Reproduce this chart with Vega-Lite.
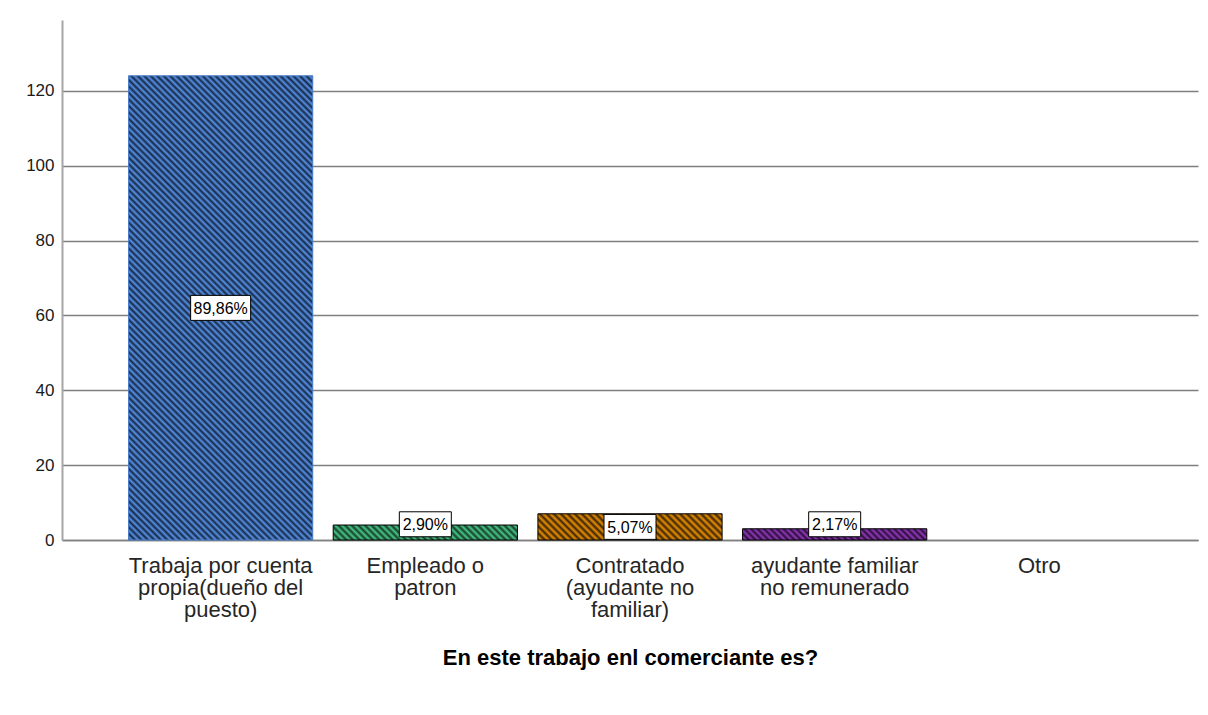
{
  "$schema": "https://vega.github.io/schema/vega-lite/v6.json",
  "width": 1136,
  "height": 520,
  "autosize": {"type": "none"},
  "padding": {"left": 62, "top": 20, "right": 10, "bottom": 175},
  "background": "white",
  "config": {
    "view": {"stroke": null},
    "font": "Liberation Sans",
    "axis": {"labelFont": "Liberation Sans", "titleFont": "Liberation Sans"},
    "axisY": {
      "grid": true,
      "gridColor": "#7f7f7f",
      "gridWidth": 1.5,
      "domainColor": "#a6a6a6",
      "domainWidth": 2,
      "tickSize": 0,
      "labelPadding": 8,
      "labelFontSize": 17,
      "labelColor": "#1a1a1a"
    },
    "text": {"font": "Liberation Sans"}
  },
  "data": {
    "values": [
      {"cat": "Trabaja por cuenta propia(dueño del puesto)", "count": 124, "pct": 89.86},
      {"cat": "Empleado o patron", "count": 4, "pct": 2.90},
      {"cat": "Contratado (ayudante no familiar)", "count": 7, "pct": 5.07},
      {"cat": "ayudante familiar no remunerado", "count": 3, "pct": 2.17},
      {"cat": "Otro", "count": 0, "pct": 0}
    ]
  },
  "encoding": {
    "x": {
      "field": "cat",
      "type": "nominal",
      "sort": null,
      "scale": {
        "domain": ["Trabaja por cuenta propia(dueño del puesto)", "Empleado o patron", "Contratado (ayudante no familiar)", "ayudante familiar no remunerado", "Otro"],
        "paddingInner": 0.1,
        "paddingOuter": 0.325
      },
      "axis": {
        "title": "En este trabajo enl comerciante es?",
        "titleFontSize": 22,
        "titleFontWeight": "bold",
        "titleColor": "#000000",
        "titlePadding": 27,
        "labelAngle": 0,
        "labelFontSize": 22,
        "labelLineHeight": 22,
        "labelColor": "#262626",
        "labelPadding": 15,
        "labelLimit": 0,
        "labelOverlap": false,
        "labelBound": false,
        "ticks": false,
        "tickSize": 0,
        "domainColor": "#7f7f7f",
        "domainWidth": 1.5,
        "labelExpr": "datum.value == 'Trabaja por cuenta propia(dueño del puesto)' ? ['Trabaja por cuenta', 'propia(dueño del', 'puesto)'] : datum.value == 'Empleado o patron' ? ['Empleado o', 'patron'] : datum.value == 'Contratado (ayudante no familiar)' ? ['Contratado', '(ayudante no', 'familiar)'] : datum.value == 'ayudante familiar no remunerado' ? ['ayudante familiar', 'no remunerado'] : datum.label"
      }
    },
    "y": {
      "field": "count",
      "type": "quantitative",
      "stack": null,
      "scale": {"domain": [0, 138.9], "nice": false, "zero": true},
      "axis": {"title": null, "values": [0, 20, 40, 60, 80, 100, 120]}
    }
  },
  "layer": [
    {
      "transform": [{"filter": "datum.cat == 'Trabaja por cuenta propia(dueño del puesto)'"}],
      "mark": {
        "type": "bar",
        "stroke": "#4a7cc8",
        "strokeWidth": 1,
        "fill": {
          "gradient": "linear",
          "x1": 1, "y1": 0, "x2": 0.5212, "y2": 1.2068,
          "stops": [
            {"offset":0,"color":"#172845"},{"offset":0.005,"color":"#5591e6"},
            {"offset":0.01,"color":"#172845"},{"offset":0.015,"color":"#5591e6"},
            {"offset":0.02,"color":"#172845"},{"offset":0.025,"color":"#5591e6"},
            {"offset":0.03,"color":"#172845"},{"offset":0.035,"color":"#5591e6"},
            {"offset":0.04,"color":"#172845"},{"offset":0.045,"color":"#5591e6"},
            {"offset":0.05,"color":"#172845"},{"offset":0.055,"color":"#5591e6"},
            {"offset":0.06,"color":"#172845"},{"offset":0.065,"color":"#5591e6"},
            {"offset":0.07,"color":"#172845"},{"offset":0.075,"color":"#5591e6"},
            {"offset":0.08,"color":"#172845"},{"offset":0.085,"color":"#5591e6"},
            {"offset":0.09,"color":"#172845"},{"offset":0.095,"color":"#5591e6"},
            {"offset":0.1,"color":"#172845"},{"offset":0.105,"color":"#5591e6"},
            {"offset":0.11,"color":"#172845"},{"offset":0.115,"color":"#5591e6"},
            {"offset":0.12,"color":"#172845"},{"offset":0.125,"color":"#5591e6"},
            {"offset":0.13,"color":"#172845"},{"offset":0.135,"color":"#5591e6"},
            {"offset":0.14,"color":"#172845"},{"offset":0.145,"color":"#5591e6"},
            {"offset":0.15,"color":"#172845"},{"offset":0.155,"color":"#5591e6"},
            {"offset":0.16,"color":"#172845"},{"offset":0.165,"color":"#5591e6"},
            {"offset":0.17,"color":"#172845"},{"offset":0.175,"color":"#5591e6"},
            {"offset":0.18,"color":"#172845"},{"offset":0.185,"color":"#5591e6"},
            {"offset":0.19,"color":"#172845"},{"offset":0.195,"color":"#5591e6"},
            {"offset":0.2,"color":"#172845"},{"offset":0.205,"color":"#5591e6"},
            {"offset":0.21,"color":"#172845"},{"offset":0.215,"color":"#5591e6"},
            {"offset":0.22,"color":"#172845"},{"offset":0.225,"color":"#5591e6"},
            {"offset":0.23,"color":"#172845"},{"offset":0.235,"color":"#5591e6"},
            {"offset":0.24,"color":"#172845"},{"offset":0.245,"color":"#5591e6"},
            {"offset":0.25,"color":"#172845"},{"offset":0.255,"color":"#5591e6"},
            {"offset":0.26,"color":"#172845"},{"offset":0.265,"color":"#5591e6"},
            {"offset":0.27,"color":"#172845"},{"offset":0.275,"color":"#5591e6"},
            {"offset":0.28,"color":"#172845"},{"offset":0.285,"color":"#5591e6"},
            {"offset":0.29,"color":"#172845"},{"offset":0.295,"color":"#5591e6"},
            {"offset":0.3,"color":"#172845"},{"offset":0.305,"color":"#5591e6"},
            {"offset":0.31,"color":"#172845"},{"offset":0.315,"color":"#5591e6"},
            {"offset":0.32,"color":"#172845"},{"offset":0.325,"color":"#5591e6"},
            {"offset":0.33,"color":"#172845"},{"offset":0.335,"color":"#5591e6"},
            {"offset":0.34,"color":"#172845"},{"offset":0.345,"color":"#5591e6"},
            {"offset":0.35,"color":"#172845"},{"offset":0.355,"color":"#5591e6"},
            {"offset":0.36,"color":"#172845"},{"offset":0.365,"color":"#5591e6"},
            {"offset":0.37,"color":"#172845"},{"offset":0.375,"color":"#5591e6"},
            {"offset":0.38,"color":"#172845"},{"offset":0.385,"color":"#5591e6"},
            {"offset":0.39,"color":"#172845"},{"offset":0.395,"color":"#5591e6"},
            {"offset":0.4,"color":"#172845"},{"offset":0.405,"color":"#5591e6"},
            {"offset":0.41,"color":"#172845"},{"offset":0.415,"color":"#5591e6"},
            {"offset":0.42,"color":"#172845"},{"offset":0.425,"color":"#5591e6"},
            {"offset":0.43,"color":"#172845"},{"offset":0.435,"color":"#5591e6"},
            {"offset":0.44,"color":"#172845"},{"offset":0.445,"color":"#5591e6"},
            {"offset":0.45,"color":"#172845"},{"offset":0.455,"color":"#5591e6"},
            {"offset":0.46,"color":"#172845"},{"offset":0.465,"color":"#5591e6"},
            {"offset":0.47,"color":"#172845"},{"offset":0.475,"color":"#5591e6"},
            {"offset":0.48,"color":"#172845"},{"offset":0.485,"color":"#5591e6"},
            {"offset":0.49,"color":"#172845"},{"offset":0.495,"color":"#5591e6"},
            {"offset":0.5,"color":"#172845"},{"offset":0.505,"color":"#5591e6"},
            {"offset":0.51,"color":"#172845"},{"offset":0.515,"color":"#5591e6"},
            {"offset":0.52,"color":"#172845"},{"offset":0.525,"color":"#5591e6"},
            {"offset":0.53,"color":"#172845"},{"offset":0.535,"color":"#5591e6"},
            {"offset":0.54,"color":"#172845"},{"offset":0.545,"color":"#5591e6"},
            {"offset":0.55,"color":"#172845"},{"offset":0.555,"color":"#5591e6"},
            {"offset":0.56,"color":"#172845"},{"offset":0.565,"color":"#5591e6"},
            {"offset":0.57,"color":"#172845"},{"offset":0.575,"color":"#5591e6"},
            {"offset":0.58,"color":"#172845"},{"offset":0.585,"color":"#5591e6"},
            {"offset":0.59,"color":"#172845"},{"offset":0.595,"color":"#5591e6"},
            {"offset":0.6,"color":"#172845"},{"offset":0.605,"color":"#5591e6"},
            {"offset":0.61,"color":"#172845"},{"offset":0.615,"color":"#5591e6"},
            {"offset":0.62,"color":"#172845"},{"offset":0.625,"color":"#5591e6"},
            {"offset":0.63,"color":"#172845"},{"offset":0.635,"color":"#5591e6"},
            {"offset":0.64,"color":"#172845"},{"offset":0.645,"color":"#5591e6"},
            {"offset":0.65,"color":"#172845"},{"offset":0.655,"color":"#5591e6"},
            {"offset":0.66,"color":"#172845"},{"offset":0.665,"color":"#5591e6"},
            {"offset":0.67,"color":"#172845"},{"offset":0.675,"color":"#5591e6"},
            {"offset":0.68,"color":"#172845"},{"offset":0.685,"color":"#5591e6"},
            {"offset":0.69,"color":"#172845"},{"offset":0.695,"color":"#5591e6"},
            {"offset":0.7,"color":"#172845"},{"offset":0.705,"color":"#5591e6"},
            {"offset":0.71,"color":"#172845"},{"offset":0.715,"color":"#5591e6"},
            {"offset":0.72,"color":"#172845"},{"offset":0.725,"color":"#5591e6"},
            {"offset":0.73,"color":"#172845"},{"offset":0.735,"color":"#5591e6"},
            {"offset":0.74,"color":"#172845"},{"offset":0.745,"color":"#5591e6"},
            {"offset":0.75,"color":"#172845"},{"offset":0.755,"color":"#5591e6"},
            {"offset":0.76,"color":"#172845"},{"offset":0.765,"color":"#5591e6"},
            {"offset":0.77,"color":"#172845"},{"offset":0.775,"color":"#5591e6"},
            {"offset":0.78,"color":"#172845"},{"offset":0.785,"color":"#5591e6"},
            {"offset":0.79,"color":"#172845"},{"offset":0.795,"color":"#5591e6"},
            {"offset":0.8,"color":"#172845"},{"offset":0.805,"color":"#5591e6"},
            {"offset":0.81,"color":"#172845"},{"offset":0.815,"color":"#5591e6"},
            {"offset":0.82,"color":"#172845"},{"offset":0.825,"color":"#5591e6"},
            {"offset":0.83,"color":"#172845"},{"offset":0.835,"color":"#5591e6"},
            {"offset":0.84,"color":"#172845"},{"offset":0.845,"color":"#5591e6"},
            {"offset":0.85,"color":"#172845"},{"offset":0.855,"color":"#5591e6"},
            {"offset":0.86,"color":"#172845"},{"offset":0.865,"color":"#5591e6"},
            {"offset":0.87,"color":"#172845"},{"offset":0.875,"color":"#5591e6"},
            {"offset":0.88,"color":"#172845"},{"offset":0.885,"color":"#5591e6"},
            {"offset":0.89,"color":"#172845"},{"offset":0.895,"color":"#5591e6"},
            {"offset":0.9,"color":"#172845"},{"offset":0.905,"color":"#5591e6"},
            {"offset":0.91,"color":"#172845"},{"offset":0.915,"color":"#5591e6"},
            {"offset":0.92,"color":"#172845"},{"offset":0.925,"color":"#5591e6"},
            {"offset":0.93,"color":"#172845"},{"offset":0.935,"color":"#5591e6"},
            {"offset":0.94,"color":"#172845"},{"offset":0.945,"color":"#5591e6"},
            {"offset":0.95,"color":"#172845"},{"offset":0.955,"color":"#5591e6"},
            {"offset":0.96,"color":"#172845"},{"offset":0.965,"color":"#5591e6"},
            {"offset":0.97,"color":"#172845"},{"offset":0.975,"color":"#5591e6"},
            {"offset":0.98,"color":"#172845"},{"offset":0.985,"color":"#5591e6"},
            {"offset":0.99,"color":"#172845"},{"offset":0.995,"color":"#5591e6"},
            {"offset":1,"color":"#172845"}
          ]
        }
      }
    },
    {
      "transform": [{"filter": "datum.cat == 'Empleado o patron'"}],
      "mark": {
        "type": "bar",
        "stroke": "#000000",
        "strokeWidth": 1,
        "fill": {
          "gradient": "linear",
          "x1": 1, "y1": 0, "x2": -0.0743, "y2": 0.0874,
          "stops": [
            {"offset":0,"color":"#163e28"},{"offset":0.0167,"color":"#47c688"},{"offset":0.0333,"color":"#163e28"},{"offset":0.05,"color":"#47c688"},
            {"offset":0.0667,"color":"#163e28"},{"offset":0.0833,"color":"#47c688"},{"offset":0.1,"color":"#163e28"},{"offset":0.1167,"color":"#47c688"},
            {"offset":0.1333,"color":"#163e28"},{"offset":0.15,"color":"#47c688"},{"offset":0.1667,"color":"#163e28"},{"offset":0.1833,"color":"#47c688"},
            {"offset":0.2,"color":"#163e28"},{"offset":0.2167,"color":"#47c688"},{"offset":0.2333,"color":"#163e28"},{"offset":0.25,"color":"#47c688"},
            {"offset":0.2667,"color":"#163e28"},{"offset":0.2833,"color":"#47c688"},{"offset":0.3,"color":"#163e28"},{"offset":0.3167,"color":"#47c688"},
            {"offset":0.3333,"color":"#163e28"},{"offset":0.35,"color":"#47c688"},{"offset":0.3667,"color":"#163e28"},{"offset":0.3833,"color":"#47c688"},
            {"offset":0.4,"color":"#163e28"},{"offset":0.4167,"color":"#47c688"},{"offset":0.4333,"color":"#163e28"},{"offset":0.45,"color":"#47c688"},
            {"offset":0.4667,"color":"#163e28"},{"offset":0.4833,"color":"#47c688"},{"offset":0.5,"color":"#163e28"},{"offset":0.5167,"color":"#47c688"},
            {"offset":0.5333,"color":"#163e28"},{"offset":0.55,"color":"#47c688"},{"offset":0.5667,"color":"#163e28"},{"offset":0.5833,"color":"#47c688"},
            {"offset":0.6,"color":"#163e28"},{"offset":0.6167,"color":"#47c688"},{"offset":0.6333,"color":"#163e28"},{"offset":0.65,"color":"#47c688"},
            {"offset":0.6667,"color":"#163e28"},{"offset":0.6833,"color":"#47c688"},{"offset":0.7,"color":"#163e28"},{"offset":0.7167,"color":"#47c688"},
            {"offset":0.7333,"color":"#163e28"},{"offset":0.75,"color":"#47c688"},{"offset":0.7667,"color":"#163e28"},{"offset":0.7833,"color":"#47c688"},
            {"offset":0.8,"color":"#163e28"},{"offset":0.8167,"color":"#47c688"},{"offset":0.8333,"color":"#163e28"},{"offset":0.85,"color":"#47c688"},
            {"offset":0.8667,"color":"#163e28"},{"offset":0.8833,"color":"#47c688"},{"offset":0.9,"color":"#163e28"},{"offset":0.9167,"color":"#47c688"},
            {"offset":0.9333,"color":"#163e28"},{"offset":0.95,"color":"#47c688"},{"offset":0.9667,"color":"#163e28"},{"offset":0.9833,"color":"#47c688"},
            {"offset":1,"color":"#163e28"}
          ]
        }
      }
    },
    {
      "transform": [{"filter": "datum.cat == 'Contratado (ayudante no familiar)'"}],
      "mark": {
        "type": "bar",
        "stroke": "#000000",
        "strokeWidth": 1,
        "fill": {
          "gradient": "linear",
          "x1": 1, "y1": 0, "x2": -0.1196, "y2": 0.1592,
          "stops": [
            {"offset":0,"color":"#3e2600"},{"offset":0.0167,"color":"#e88e04"},{"offset":0.0333,"color":"#3e2600"},{"offset":0.05,"color":"#e88e04"},
            {"offset":0.0667,"color":"#3e2600"},{"offset":0.0833,"color":"#e88e04"},{"offset":0.1,"color":"#3e2600"},{"offset":0.1167,"color":"#e88e04"},
            {"offset":0.1333,"color":"#3e2600"},{"offset":0.15,"color":"#e88e04"},{"offset":0.1667,"color":"#3e2600"},{"offset":0.1833,"color":"#e88e04"},
            {"offset":0.2,"color":"#3e2600"},{"offset":0.2167,"color":"#e88e04"},{"offset":0.2333,"color":"#3e2600"},{"offset":0.25,"color":"#e88e04"},
            {"offset":0.2667,"color":"#3e2600"},{"offset":0.2833,"color":"#e88e04"},{"offset":0.3,"color":"#3e2600"},{"offset":0.3167,"color":"#e88e04"},
            {"offset":0.3333,"color":"#3e2600"},{"offset":0.35,"color":"#e88e04"},{"offset":0.3667,"color":"#3e2600"},{"offset":0.3833,"color":"#e88e04"},
            {"offset":0.4,"color":"#3e2600"},{"offset":0.4167,"color":"#e88e04"},{"offset":0.4333,"color":"#3e2600"},{"offset":0.45,"color":"#e88e04"},
            {"offset":0.4667,"color":"#3e2600"},{"offset":0.4833,"color":"#e88e04"},{"offset":0.5,"color":"#3e2600"},{"offset":0.5167,"color":"#e88e04"},
            {"offset":0.5333,"color":"#3e2600"},{"offset":0.55,"color":"#e88e04"},{"offset":0.5667,"color":"#3e2600"},{"offset":0.5833,"color":"#e88e04"},
            {"offset":0.6,"color":"#3e2600"},{"offset":0.6167,"color":"#e88e04"},{"offset":0.6333,"color":"#3e2600"},{"offset":0.65,"color":"#e88e04"},
            {"offset":0.6667,"color":"#3e2600"},{"offset":0.6833,"color":"#e88e04"},{"offset":0.7,"color":"#3e2600"},{"offset":0.7167,"color":"#e88e04"},
            {"offset":0.7333,"color":"#3e2600"},{"offset":0.75,"color":"#e88e04"},{"offset":0.7667,"color":"#3e2600"},{"offset":0.7833,"color":"#e88e04"},
            {"offset":0.8,"color":"#3e2600"},{"offset":0.8167,"color":"#e88e04"},{"offset":0.8333,"color":"#3e2600"},{"offset":0.85,"color":"#e88e04"},
            {"offset":0.8667,"color":"#3e2600"},{"offset":0.8833,"color":"#e88e04"},{"offset":0.9,"color":"#3e2600"},{"offset":0.9167,"color":"#e88e04"},
            {"offset":0.9333,"color":"#3e2600"},{"offset":0.95,"color":"#e88e04"},{"offset":0.9667,"color":"#3e2600"},{"offset":0.9833,"color":"#e88e04"},
            {"offset":1,"color":"#3e2600"}
          ]
        }
      }
    },
    {
      "transform": [{"filter": "datum.cat == 'ayudante familiar no remunerado'"}],
      "mark": {
        "type": "bar",
        "stroke": "#000000",
        "strokeWidth": 1,
        "fill": {
          "gradient": "linear",
          "x1": 1, "y1": 0, "x2": -0.0569, "y2": 0.0644,
          "stops": [
            {"offset":0,"color":"#2c0e3c"},{"offset":0.0167,"color":"#9038b8"},{"offset":0.0333,"color":"#2c0e3c"},{"offset":0.05,"color":"#9038b8"},
            {"offset":0.0667,"color":"#2c0e3c"},{"offset":0.0833,"color":"#9038b8"},{"offset":0.1,"color":"#2c0e3c"},{"offset":0.1167,"color":"#9038b8"},
            {"offset":0.1333,"color":"#2c0e3c"},{"offset":0.15,"color":"#9038b8"},{"offset":0.1667,"color":"#2c0e3c"},{"offset":0.1833,"color":"#9038b8"},
            {"offset":0.2,"color":"#2c0e3c"},{"offset":0.2167,"color":"#9038b8"},{"offset":0.2333,"color":"#2c0e3c"},{"offset":0.25,"color":"#9038b8"},
            {"offset":0.2667,"color":"#2c0e3c"},{"offset":0.2833,"color":"#9038b8"},{"offset":0.3,"color":"#2c0e3c"},{"offset":0.3167,"color":"#9038b8"},
            {"offset":0.3333,"color":"#2c0e3c"},{"offset":0.35,"color":"#9038b8"},{"offset":0.3667,"color":"#2c0e3c"},{"offset":0.3833,"color":"#9038b8"},
            {"offset":0.4,"color":"#2c0e3c"},{"offset":0.4167,"color":"#9038b8"},{"offset":0.4333,"color":"#2c0e3c"},{"offset":0.45,"color":"#9038b8"},
            {"offset":0.4667,"color":"#2c0e3c"},{"offset":0.4833,"color":"#9038b8"},{"offset":0.5,"color":"#2c0e3c"},{"offset":0.5167,"color":"#9038b8"},
            {"offset":0.5333,"color":"#2c0e3c"},{"offset":0.55,"color":"#9038b8"},{"offset":0.5667,"color":"#2c0e3c"},{"offset":0.5833,"color":"#9038b8"},
            {"offset":0.6,"color":"#2c0e3c"},{"offset":0.6167,"color":"#9038b8"},{"offset":0.6333,"color":"#2c0e3c"},{"offset":0.65,"color":"#9038b8"},
            {"offset":0.6667,"color":"#2c0e3c"},{"offset":0.6833,"color":"#9038b8"},{"offset":0.7,"color":"#2c0e3c"},{"offset":0.7167,"color":"#9038b8"},
            {"offset":0.7333,"color":"#2c0e3c"},{"offset":0.75,"color":"#9038b8"},{"offset":0.7667,"color":"#2c0e3c"},{"offset":0.7833,"color":"#9038b8"},
            {"offset":0.8,"color":"#2c0e3c"},{"offset":0.8167,"color":"#9038b8"},{"offset":0.8333,"color":"#2c0e3c"},{"offset":0.85,"color":"#9038b8"},
            {"offset":0.8667,"color":"#2c0e3c"},{"offset":0.8833,"color":"#9038b8"},{"offset":0.9,"color":"#2c0e3c"},{"offset":0.9167,"color":"#9038b8"},
            {"offset":0.9333,"color":"#2c0e3c"},{"offset":0.95,"color":"#9038b8"},{"offset":0.9667,"color":"#2c0e3c"},{"offset":0.9833,"color":"#9038b8"},
            {"offset":1,"color":"#2c0e3c"}
          ]
        }
      }
    },
    {
      "transform": [
        {"filter": "datum.count > 0"},
        {"calculate": "datum.count / 2 >= 3 ? datum.count / 2 : 4.2", "as": "ly"}
      ],
      "mark": {"type": "point", "filled": true, "fill": "#ffffff", "stroke": "#000000", "strokeWidth": 1, "opacity": 1},
      "encoding": {
        "y": {"field": "ly", "type": "quantitative", "axis": {"title": null, "values": [0, 20, 40, 60, 80, 100, 120]}},
        "shape": {
          "condition": {"test": "datum.count > 100", "value": "M-1,-0.417H1V0.417H-1Z"},
          "value": "M-1,-0.48H1V0.48H-1Z"
        },
        "size": {
          "condition": {"test": "datum.count > 100", "value": 3600},
          "value": 2704
        }
      }
    },
    {
      "transform": [
        {"filter": "datum.count > 0"},
        {"calculate": "datum.count / 2 >= 3 ? datum.count / 2 : 4.2", "as": "ly"},
        {"calculate": "replace(format(datum.pct, '.2f'), '.', ',') + '%'", "as": "lbl"}
      ],
      "mark": {"type": "text", "fontSize": 16, "color": "#000000", "align": "center", "baseline": "middle", "dy": 1},
      "encoding": {
        "y": {"field": "ly", "type": "quantitative", "axis": {"title": null, "values": [0, 20, 40, 60, 80, 100, 120]}},
        "text": {"field": "lbl", "type": "nominal"}
      }
    }
  ]
}
